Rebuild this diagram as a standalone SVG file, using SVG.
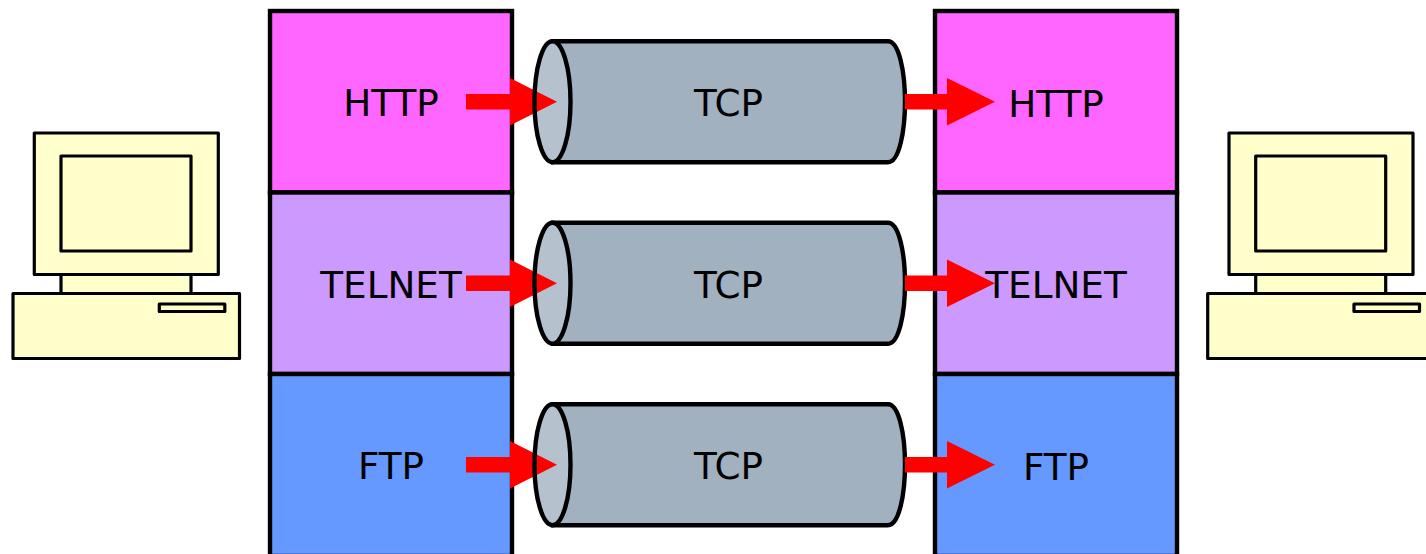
<svg xmlns="http://www.w3.org/2000/svg" width="1426" height="554" viewBox="0 0 1426 554">
<style>
.box{stroke:#000;stroke-width:4.400}
.pc{fill:#ffc;stroke:#000;stroke-width:3.200;stroke-linejoin:round}
.body{fill:#a2b1c0;stroke:#000;stroke-width:4.400}
.cap{fill:#b5c1cc}
.rim{fill:none;stroke:#000;stroke-width:4.400}
.arrow{fill:#f00}
text{font-family:"DejaVu Sans",sans-serif;font-size:37.300px;fill:#000;text-anchor:middle}
</style>
<defs>
<g id="computer">
<rect class="pc" x="61" y="250" width="130" height="44"/>
<rect class="pc" x="34.300" y="133" width="184" height="141.500"/>
<rect class="pc" x="61" y="156" width="130" height="95"/>
<rect class="pc" x="13" y="293.500" width="226.500" height="65"/>
<rect class="pc" x="159.300" y="304" width="65.500" height="7.500"/>
</g>
<path id="arrowShape" d="M0 -7.700H44V-23.700L91 0L44 23.700V7.700H0Z"/>
<path id="arrowShapeR" d="M0 -7.700H42V-23.700L90 0L42 23.700V7.700H0Z"/>
<g id="cyl">
<path class="body" d="M553 -60.500H888C899 -60.500 905 -30 905 0C905 30 899 60.500 888 60.500H553Z"/>
<ellipse class="cap" cx="552.500" cy="0" rx="18" ry="60.500"/>
</g>
</defs>
<g id="computer-left"><use href="#computer"/></g>
<g id="computer-right"><use href="#computer" x="1194.700"/></g>
<g id="stack-left">
<g id="left-http"><rect class="box" x="270" y="11" width="242" height="181.500" fill="#f6f"/></g>
<g id="left-telnet"><rect class="box" x="270" y="192.500" width="242" height="181.500" fill="#c9f"/></g>
<g id="left-ftp"><rect class="box" x="270" y="374" width="242" height="182" fill="#69f"/></g>
</g>
<g id="stack-right">
<g id="right-http"><rect class="box" x="935" y="11" width="242" height="181.500" fill="#f6f"/></g>
<g id="right-telnet"><rect class="box" x="935" y="192.500" width="242" height="181.500" fill="#c9f"/></g>
<g id="right-ftp"><rect class="box" x="935" y="374" width="242" height="182" fill="#69f"/></g>
</g>
<g id="tcp-1"><use href="#cyl" y="101.700"/></g>
<g id="tcp-2"><use href="#cyl" y="283.200"/></g>
<g id="tcp-3"><use href="#cyl" y="464.700"/></g>
<g id="connectors">
<use href="#arrowShape" class="arrow" x="466" y="101.700"/>
<use href="#arrowShape" class="arrow" x="466" y="283.200"/>
<use href="#arrowShape" class="arrow" x="466" y="464.700"/>
<use href="#arrowShapeR" class="arrow" x="905" y="101.700"/>
<use href="#arrowShapeR" class="arrow" x="905" y="283.200"/>
<use href="#arrowShapeR" class="arrow" x="905" y="464.700"/>
</g>
<g id="rims">
<ellipse class="rim" cx="552.500" cy="101.700" rx="18" ry="60.500"/>
<ellipse class="rim" cx="552.500" cy="283.200" rx="18" ry="60.500"/>
<ellipse class="rim" cx="552.500" cy="464.700" rx="18" ry="60.500"/>
</g>
<g id="labels">
<text x="391" y="116">HTTP</text>
<text x="391" y="298">TELNET</text>
<text x="391" y="479">FTP</text>
<text x="728.500" y="116">TCP</text>
<text x="728.500" y="298">TCP</text>
<text x="728.500" y="479">TCP</text>
<text x="1056" y="117">HTTP</text>
<text x="1056" y="298">TELNET</text>
<text x="1056" y="480">FTP</text>
</g>
</svg>
